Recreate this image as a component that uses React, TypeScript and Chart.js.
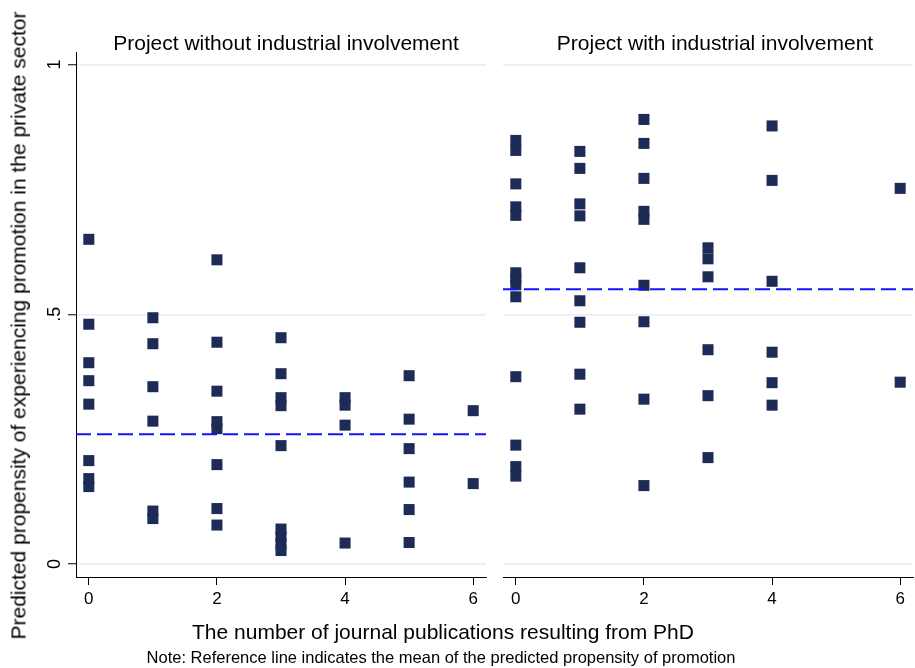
import React, { useEffect, useRef } from "react";
import { Chart, registerables } from "chart.js";

Chart.register(...registerables);

// ---------- data ----------
const X_TICKS = [0, 2, 4, 6];
const Y_TICKS = [0, 0.5, 1];
const Y_TICK_LABELS = ["0", ".5", "1"];
const X_MIN = -0.2;
const X_MAX = 6.2;
const Y_MIN = -0.026;
const Y_MAX = 1.025;

const PANEL_TITLES = [
  "Project without industrial involvement",
  "Project with industrial involvement",
];
const X_TITLE = "The number of journal publications resulting from PhD";
const Y_TITLE = "Predicted propensity of experiencing promotion in the private sector";
const NOTE = "Note: Reference line indicates the mean of the predicted propensity of promotion";

// Panel 1: without industrial involvement
const NOIND_PUBS = [
  0, 0, 0, 0, 0, 0, 0, 0,
  1, 1, 1, 1, 1, 1,
  2, 2, 2, 2, 2, 2, 2, 2,
  3, 3, 3, 3, 3, 3, 3, 3, 3,
  4, 4, 4, 4,
  5, 5, 5, 5, 5, 5,
  6, 6,
];
const NOIND_PROP = [
  0.65, 0.48, 0.403, 0.367, 0.32, 0.207, 0.171, 0.155,
  0.493, 0.441, 0.355, 0.286, 0.106, 0.091,
  0.609, 0.444, 0.346, 0.285, 0.271, 0.199, 0.111, 0.078,
  0.453, 0.381, 0.333, 0.317, 0.237, 0.07, 0.055, 0.04, 0.027,
  0.333, 0.318, 0.278, 0.042,
  0.377, 0.29, 0.231, 0.164, 0.109, 0.043,
  0.307, 0.161,
];
const NOIND_MEAN = [0.26];

// Panel 2: with industrial involvement
const IND_PUBS = [
  0, 0, 0, 0, 0, 0, 0, 0, 0, 0, 0, 0, 0,
  1, 1, 1, 1, 1, 1, 1, 1, 1,
  2, 2, 2, 2, 2, 2, 2, 2, 2,
  3, 3, 3, 3, 3, 3,
  4, 4, 4, 4, 4, 4,
  6, 6,
];
const IND_PROP = [
  0.848, 0.828, 0.761, 0.715, 0.698, 0.583, 0.571, 0.559, 0.535, 0.375, 0.238, 0.195, 0.176,
  0.826, 0.792, 0.721, 0.697, 0.593, 0.527, 0.484, 0.38, 0.31,
  0.89, 0.842, 0.772, 0.706, 0.69, 0.558, 0.485, 0.33, 0.157,
  0.633, 0.611, 0.575, 0.429, 0.337, 0.213,
  0.877, 0.768, 0.566, 0.424, 0.363, 0.318,
  0.752, 0.364,
];
const IND_MEAN = [0.55];

// ---------- styles ----------
const FONT = "'Liberation Sans', Arial, Helvetica, sans-serif";
const NAVY = "#1d2b57";
const REF_BLUE = "#1414ff";
const GRID = "#e6eef1";

function makeConfig(
  pubs: number[],
  props: number[],
  mean: number[],
  withYAxis: boolean,
  padRight: number
): any {
  return {
    type: "scatter",
    data: {
      datasets: [
        {
          type: "line",
          data: [
            { x: X_MIN, y: mean[0] },
            { x: X_MAX, y: mean[0] },
          ],
          borderColor: REF_BLUE,
          borderWidth: 2,
          borderDash: [15, 6],
          pointRadius: 0,
          fill: false,
          order: 0,
        },
        {
          type: "scatter",
          data: pubs.map((x, i) => ({ x, y: props[i] })),
          pointStyle: "rect",
          pointRadius: 7.8,
          backgroundColor: NAVY,
          borderColor: NAVY,
          borderWidth: 0,
          order: 1,
        },
      ],
    },
    options: {
      responsive: false,
      maintainAspectRatio: false,
      animation: false,
      events: [],
      layout: { padding: { top: 52, right: padRight, left: 0, bottom: 0 } },
      plugins: {
        legend: { display: false },
        tooltip: { enabled: false },
        title: { display: false },
      },
      scales: {
        x: {
          type: "linear",
          min: X_MIN,
          max: X_MAX,
          afterBuildTicks: (s: any) => {
            s.ticks = X_TICKS.map((v) => ({ value: v }));
          },
          afterFit: (s: any) => {
            s.height = 91;
          },
          grid: {
            display: true,
            drawOnChartArea: false,
            drawTicks: true,
            tickLength: 8,
            tickColor: "#000",
            tickWidth: 1,
          },
          border: { display: true, color: "#000", width: 1 },
          ticks: {
            color: "#000",
            font: { family: FONT, size: 17 },
            padding: 4,
            maxRotation: 0,
            minRotation: 0,
            autoSkip: false,
            callback: (v: any) => String(v),
          },
        },
        y: withYAxis
          ? {
              type: "linear",
              min: Y_MIN,
              max: Y_MAX,
              afterBuildTicks: (s: any) => {
                s.ticks = Y_TICKS.map((v) => ({ value: v }));
              },
              afterFit: (s: any) => {
                s.width = 76;
              },
              grid: {
                color: GRID,
                lineWidth: 1.5,
                drawTicks: true,
                tickLength: 8,
                tickColor: "#000",
                tickWidth: 1,
              },
              border: { display: true, color: "#000", width: 1 },
              ticks: {
                color: "#000",
                font: { family: FONT, size: 18 },
                padding: 5,
                minRotation: 90,
                maxRotation: 90,
                crossAlign: "center",
                autoSkip: false,
                callback: (_v: any, i: number) => Y_TICK_LABELS[i],
              },
            }
          : {
              type: "linear",
              min: Y_MIN,
              max: Y_MAX,
              afterBuildTicks: (s: any) => {
                s.ticks = Y_TICKS.map((v) => ({ value: v }));
              },
              afterFit: (s: any) => {
                s.width = 8;
              },
              grid: {
                color: GRID,
                lineWidth: 1.5,
                drawTicks: false,
              },
              border: { display: false },
              ticks: { display: false },
            },
      },
    },
  };
}

const textBase: React.CSSProperties = {
  position: "absolute",
  fontFamily: FONT,
  color: "#000",
  whiteSpace: "nowrap",
  textAlign: "center",
};

export default function App() {
  const leftRef = useRef<HTMLCanvasElement>(null);
  const rightRef = useRef<HTMLCanvasElement>(null);

  useEffect(() => {
    const a = new Chart(
      leftRef.current as HTMLCanvasElement,
      makeConfig(NOIND_PUBS, NOIND_PROP, NOIND_MEAN, true, 9)
    );
    const b = new Chart(
      rightRef.current as HTMLCanvasElement,
      makeConfig(IND_PUBS, IND_PROP, IND_MEAN, false, 22)
    );
    return () => {
      a.destroy();
      b.destroy();
    };
  }, []);

  return (
    <div
      style={{
        position: "absolute",
        left: 0,
        top: 0,
        width: 915,
        height: 668,
        background: "#fff",
        overflow: "hidden",
      }}
    >
      <canvas
        ref={leftRef}
        width={495}
        height={668}
        style={{ position: "absolute", left: 0, top: 0, width: 495, height: 668 }}
      />
      <canvas
        ref={rightRef}
        width={440}
        height={668}
        style={{ position: "absolute", left: 495, top: 0, width: 440, height: 668 }}
      />
      <div
        style={{
          ...textBase,
          left: 286 - 250,
          width: 500,
          top: 31.5,
          fontSize: 21,
          lineHeight: "21px",
        }}
      >
        {PANEL_TITLES[0]}
      </div>
      <div
        style={{
          ...textBase,
          left: 715 - 250,
          width: 500,
          top: 31.5,
          fontSize: 21,
          lineHeight: "21px",
        }}
      >
        {PANEL_TITLES[1]}
      </div>
      <div
        style={{
          ...textBase,
          left: 443 - 400,
          width: 800,
          top: 620.5,
          fontSize: 21,
          lineHeight: "21px",
        }}
      >
        {X_TITLE}
      </div>
      <div
        style={{
          ...textBase,
          left: 441 - 400,
          width: 800,
          top: 648.5,
          fontSize: 16.5,
          lineHeight: "16.5px",
        }}
      >
        {NOTE}
      </div>
      <div
        style={{
          ...textBase,
          left: 18 - 400,
          width: 800,
          top: 325 - 10.5,
          fontSize: 21,
          lineHeight: "21px",
          transform: "rotate(-90deg)",
          transformOrigin: "50% 50%",
        }}
      >
        {Y_TITLE}
      </div>
    </div>
  );
}
